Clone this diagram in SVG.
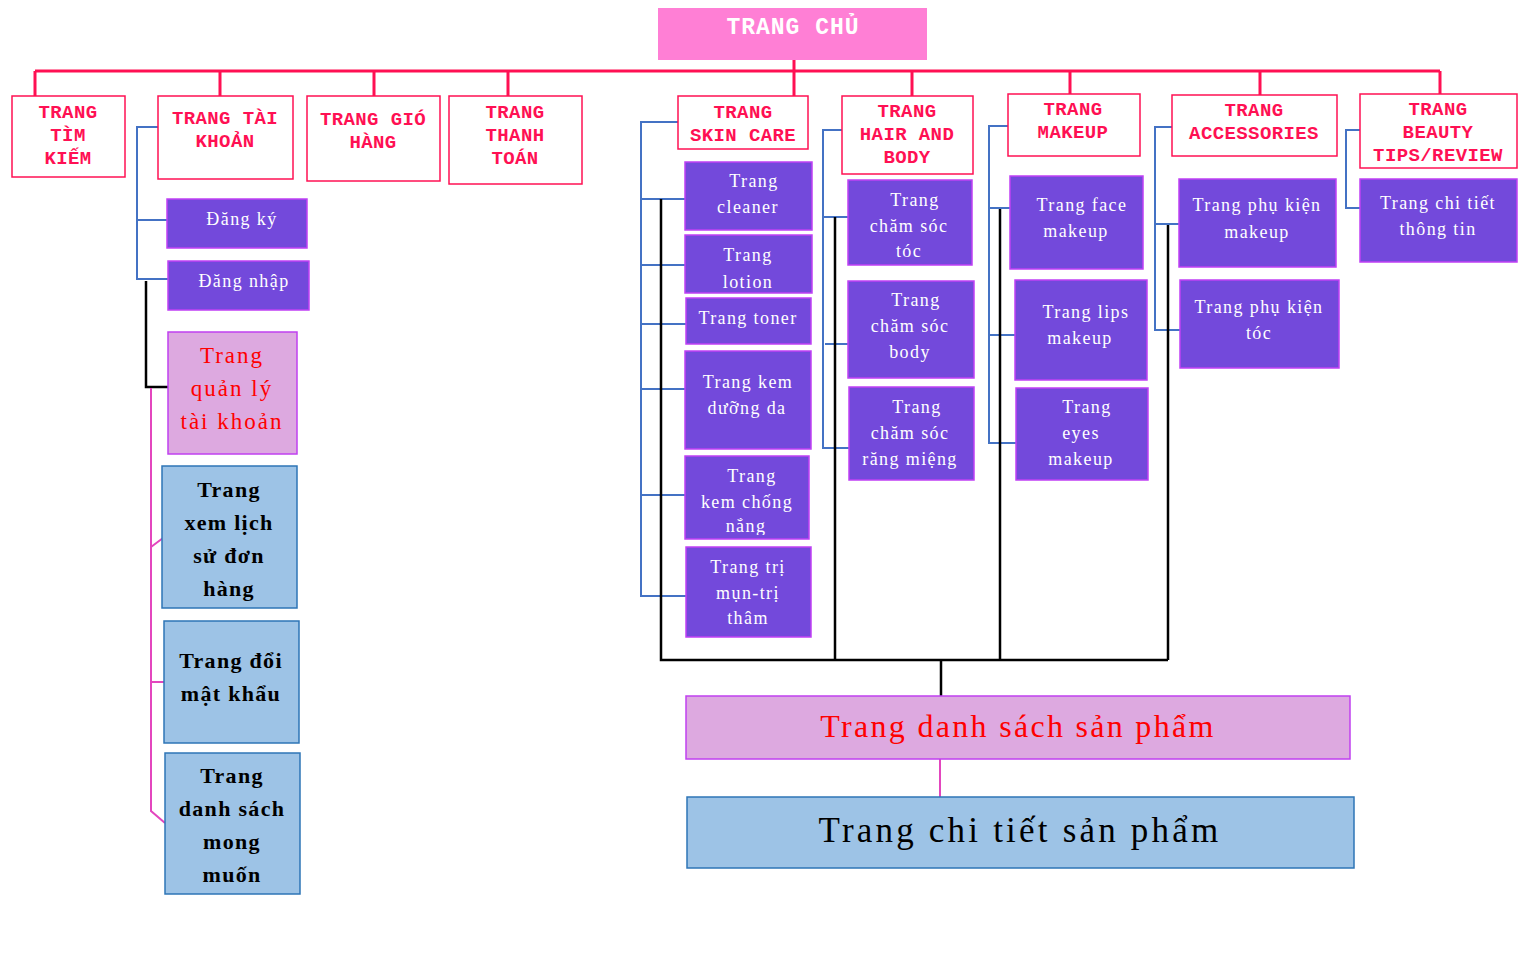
<svg xmlns="http://www.w3.org/2000/svg" width="1528" height="960" viewBox="0 0 1528 960">
<style>
.hb{fill:#fff;stroke:#FF1053;stroke-width:1.5}
.ht{font-family:"Liberation Mono","Courier New",monospace;font-weight:bold;font-size:19px;fill:#FF1053;text-anchor:middle;letter-spacing:0.4px}
.pb{fill:#7349DB;stroke:#C040F5;stroke-width:1.5}
.pt{font-family:"Liberation Serif","Times New Roman",serif;font-size:18px;fill:#fff;text-anchor:middle;letter-spacing:1.4px}
.qb{fill:#DDA9E0;stroke:#C040F0;stroke-width:1.5}
.qt{font-family:"Liberation Serif","Times New Roman",serif;font-size:23px;fill:#FF0000;text-anchor:middle;letter-spacing:2px}
.bb{fill:#9DC3E6;stroke:#2E75B6;stroke-width:1.5}
.bt{font-family:"Liberation Serif","Times New Roman",serif;font-size:22px;font-weight:bold;fill:#000;text-anchor:middle;letter-spacing:1.3px}
.red{stroke:#FF1053;stroke-width:3;fill:none}
.blue{stroke:#4472C4;stroke-width:2;fill:none}
.blk{stroke:#000;stroke-width:2.5;fill:none}
.pink{stroke:#E346BE;stroke-width:2;fill:none}
</style>
<defs>
<clipPath id="cl-lotion"><rect x="685" y="235" width="127" height="54"/></clipPath>
<clipPath id="cl-nang"><rect x="685" y="456" width="124" height="79"/></clipPath>
</defs>

<g id="connectors">
<path class="red" d="M35,71 H1440 M35,71 V96 M220,71 V96 M374,71 V96 M508,71 V96 M794,60 V96 M912,71 V96 M1070,71 V94 M1260,71 V95 M1440,71 V94"/>
<path class="blue" d="M160,127 H137 V279 H168 M137,220 H167"/>
<path class="blue" d="M679,122 H641 V596 H686 M641,199 H685 M641,265 H685 M641,324 H686 M641,389 H685 M641,495 H685"/>
<path class="blue" d="M843,130 H823 V448 H849 M823,217 H848 M825,344 H848"/>
<path class="blue" d="M1008,126 H989 V443 H1016 M989,208 H1010 M989,335 H1015"/>
<path class="blue" d="M1172,127 H1155 V330 H1180 M1155,224 H1179"/>
<path class="blue" d="M1360,130 H1346 V208 H1360"/>
<path class="blk" d="M146,281 V387 H168"/>
<path class="blk" d="M661,199 V660 H1168 M835,217 V660 M1000,209 V660 M1168,225 V660 M941,660 V697"/>
<path class="pink" d="M151,388 V811 L165,823 M151,547 L163,538 M151,682 H164"/>
<path class="pink" d="M940,759 V797"/>
</g>

<g id="trang-chu">
<rect x="658" y="8" width="269" height="52" fill="#FF7FD5"/>
<text x="793" y="34" font-family="Liberation Mono, Courier New, monospace" font-weight="bold" font-size="23" fill="#fff" text-anchor="middle" letter-spacing="1">TRANG CHỦ</text>
</g>

<g id="h-timkiem"><rect class="hb" x="12" y="96" width="113" height="81"/>
<text class="ht" x="68" y="118">TRANG</text><text class="ht" x="68" y="141">TÌM</text><text class="ht" x="68" y="164">KIẾM</text></g>
<g id="h-taikhoan"><rect class="hb" x="158" y="96" width="135" height="83"/>
<text class="ht" x="225" y="124">TRANG TÀI</text><text class="ht" x="225" y="147">KHOẢN</text></g>
<g id="h-giohang"><rect class="hb" x="307" y="96" width="133" height="85"/>
<text class="ht" x="373" y="125">TRANG GIÓ</text><text class="ht" x="373" y="148">HÀNG</text></g>
<g id="h-thanhtoan"><rect class="hb" x="449" y="96" width="133" height="88"/>
<text class="ht" x="515" y="118">TRANG</text><text class="ht" x="515" y="141">THANH</text><text class="ht" x="515" y="164">TOÁN</text></g>
<g id="h-skincare"><rect class="hb" x="678" y="96" width="130" height="53"/>
<text class="ht" x="743" y="118">TRANG</text><text class="ht" x="743" y="141">SKIN CARE</text></g>
<g id="h-hairbody"><rect class="hb" x="842" y="96" width="131" height="78"/>
<text class="ht" x="907" y="117">TRANG</text><text class="ht" x="907" y="140">HAIR AND</text><text class="ht" x="907" y="163">BODY</text></g>
<g id="h-makeup"><rect class="hb" x="1008" y="94" width="132" height="62"/>
<text class="ht" x="1073" y="115">TRANG</text><text class="ht" x="1073" y="138">MAKEUP</text></g>
<g id="h-accessories"><rect class="hb" x="1172" y="95" width="165" height="61"/>
<text class="ht" x="1254" y="116">TRANG</text><text class="ht" x="1254" y="139">ACCESSORIES</text></g>
<g id="h-beauty"><rect class="hb" x="1360" y="94" width="157" height="74"/>
<text class="ht" x="1438" y="115">TRANG</text><text class="ht" x="1438" y="138">BEAUTY</text><text class="ht" x="1438" y="161">TIPS/REVIEW</text></g>

<g id="dangky"><rect class="pb" x="167" y="199" width="140" height="49"/><text class="pt" x="242" y="225">Đăng ký</text></g>
<g id="dangnhap"><rect class="pb" x="168" y="261" width="141" height="49"/><text class="pt" x="244" y="287">Đăng nhập</text></g>
<g id="quanly"><rect class="qb" x="168" y="332" width="129" height="122"/>
<text class="qt" x="232" y="363">Trang</text><text class="qt" x="232" y="396">quản lý</text><text class="qt" x="232" y="429">tài khoản</text></g>
<g id="lichsu"><rect class="bb" x="162" y="466" width="135" height="142"/>
<text class="bt" x="229" y="497">Trang</text><text class="bt" x="229" y="530">xem lịch</text><text class="bt" x="229" y="563">sử đơn</text><text class="bt" x="229" y="596">hàng</text></g>
<g id="doimatkhau"><rect class="bb" x="164" y="621" width="135" height="122"/>
<text class="bt" x="231" y="668">Trang đổi</text><text class="bt" x="231" y="701">mật khẩu</text></g>
<g id="mongmuon"><rect class="bb" x="165" y="753" width="135" height="141"/>
<text class="bt" x="232" y="783">Trang</text><text class="bt" x="232" y="816">danh sách</text><text class="bt" x="232" y="849">mong</text><text class="bt" x="232" y="882">muốn</text></g>

<g id="cleaner"><rect class="pb" x="685" y="162" width="127" height="68"/>
<text class="pt" x="754" y="187">Trang</text><text class="pt" x="748" y="213">cleaner</text></g>
<g id="lotion"><rect class="pb" x="685" y="235" width="127" height="58"/>
<g clip-path="url(#cl-lotion)"><text class="pt" x="748" y="261">Trang</text><text class="pt" x="748" y="288">lotion</text></g></g>
<g id="toner"><rect class="pb" x="686" y="298" width="125" height="46"/><text class="pt" x="748" y="324">Trang toner</text></g>
<g id="kemduong"><rect class="pb" x="685" y="351" width="126" height="98"/>
<text class="pt" x="748" y="388">Trang kem</text><text class="pt" x="747" y="414">dưỡng da</text></g>
<g id="chongnang"><rect class="pb" x="685" y="456" width="124" height="83"/>
<g clip-path="url(#cl-nang)"><text class="pt" x="752" y="482">Trang</text><text class="pt" x="747" y="508">kem chống</text><text class="pt" x="746" y="532">nắng</text></g></g>
<g id="trimun"><rect class="pb" x="686" y="547" width="125" height="90"/>
<text class="pt" x="748" y="573">Trang trị</text><text class="pt" x="748" y="599">mụn-trị</text><text class="pt" x="748" y="624">thâm</text></g>

<g id="toc"><rect class="pb" x="848" y="180" width="124" height="85"/>
<text class="pt" x="915" y="206">Trang</text><text class="pt" x="909" y="232">chăm sóc</text><text class="pt" x="909" y="257">tóc</text></g>
<g id="body"><rect class="pb" x="848" y="281" width="126" height="97"/>
<text class="pt" x="916" y="306">Trang</text><text class="pt" x="910" y="332">chăm sóc</text><text class="pt" x="910" y="358">body</text></g>
<g id="rangmieng"><rect class="pb" x="849" y="387" width="125" height="93"/>
<text class="pt" x="917" y="413">Trang</text><text class="pt" x="910" y="439">chăm sóc</text><text class="pt" x="910" y="465">răng miệng</text></g>

<g id="face"><rect class="pb" x="1010" y="176" width="133" height="93"/>
<text class="pt" x="1082" y="211">Trang face</text><text class="pt" x="1076" y="237">makeup</text></g>
<g id="lips"><rect class="pb" x="1015" y="280" width="132" height="100"/>
<text class="pt" x="1086" y="318">Trang lips</text><text class="pt" x="1080" y="344">makeup</text></g>
<g id="eyes"><rect class="pb" x="1016" y="388" width="132" height="92"/>
<text class="pt" x="1087" y="413">Trang</text><text class="pt" x="1081" y="439">eyes</text><text class="pt" x="1081" y="465">makeup</text></g>

<g id="pk-makeup"><rect class="pb" x="1179" y="179" width="157" height="88"/>
<text class="pt" x="1257" y="211">Trang phụ kiện</text><text class="pt" x="1257" y="238">makeup</text></g>
<g id="pk-toc"><rect class="pb" x="1180" y="280" width="159" height="88"/>
<text class="pt" x="1259" y="313">Trang phụ kiện</text><text class="pt" x="1259" y="339">tóc</text></g>
<g id="chitiet-thongtin"><rect class="pb" x="1360" y="179" width="157" height="83"/>
<text class="pt" x="1438" y="209">Trang chi tiết</text><text class="pt" x="1438" y="235">thông tin</text></g>

<g id="danhsach-sp"><rect class="qb" x="686" y="696" width="664" height="63"/>
<text x="1018" y="737" font-family="Liberation Serif, Times New Roman, serif" font-size="32" fill="#FF0000" text-anchor="middle" letter-spacing="2.3">Trang danh sách sản phẩm</text></g>
<g id="chitiet-sp"><rect class="bb" x="687" y="797" width="667" height="71"/>
<text x="1020" y="842" font-family="Liberation Serif, Times New Roman, serif" font-size="35" fill="#000" text-anchor="middle" letter-spacing="3.2">Trang chi tiết sản phẩm</text></g>
</svg>
